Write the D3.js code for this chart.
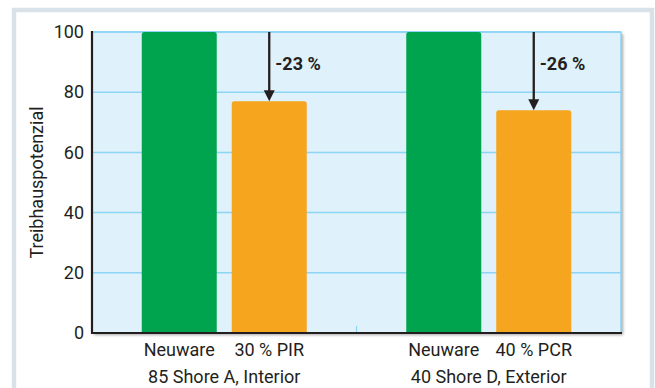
<!DOCTYPE html>
<html><head><meta charset="utf-8">
<script src="https://cdn.jsdelivr.net/npm/d3@7"></script>
<style>html,body{margin:0;padding:0;background:#fff;}svg{display:block;font-family:Roboto,"Noto Sans",sans-serif;}</style>
</head><body><svg id="c" width="655" height="388"></svg>
<script>
const groups = ["85 Shore A, Interior", "40 Shore D, Exterior"];
const series = ["Neuware", "Recyclat"];
const seriesLabels = [["Neuware", "30 % PIR"], ["Neuware", "40 % PCR"]];
const values = [[100, 77], [100, 74]];
const changeLabels = ["-23 %", "-26 %"];
const yTicks = [0, 20, 40, 60, 80, 100];
const yTitle = "Treibhauspotenzial";
const colors = ["#00a34e", "#f6a51e"];

const svg = d3.select("#c");
const L = 92, R = 621, T = 32, B = 333;

const defs = svg.append("defs");
const f = defs.append("filter").attr("id","sh").attr("x","-5%").attr("y","-5%").attr("width","115%").attr("height","115%");
f.append("feDropShadow").attr("dx",2).attr("dy",2).attr("stdDeviation",1.8).attr("flood-color","#000").attr("flood-opacity",0.35);

// outer frame
svg.append("rect").attr("x",14).attr("y",10).attr("width",638).attr("height",400)
  .attr("fill","#fff").attr("stroke","#d9e1e9").attr("stroke-width",4.5);

const y = d3.scaleLinear().domain([0,100]).range([B,T]);
const x0 = d3.scaleBand().domain(groups).range([L,R]);
const bw = x0.bandwidth();
const x1 = d3.scaleBand().domain(series).range([bw/2-82.5, bw/2+82.5]).paddingInner(15/90);

// plot background
svg.append("rect").attr("x",L).attr("y",T).attr("width",R-L).attr("height",B-T)
  .attr("fill","#dff1fa").attr("filter","url(#sh)");
svg.append("rect").attr("x",L).attr("y",T).attr("width",R-L).attr("height",B-T)
  .attr("fill","#dff1fa").attr("stroke","#8dd5f4").attr("stroke-width",1.5);

// grid
svg.append("g").selectAll("line").data(yTicks.filter(d=>d>0)).join("line")
  .attr("x1",L).attr("x2",R).attr("y1",d=>y(d)).attr("y2",d=>y(d))
  .attr("stroke","#8dd5f4").attr("stroke-width",1.5);

// separator tick
svg.append("line").attr("x1",x0(groups[1])).attr("x2",x0(groups[1]))
  .attr("y1",B-7).attr("y2",B).attr("stroke","#8dd5f4").attr("stroke-width",1.2);

// bars
const r = 2.5;
groups.forEach((g,gi)=>{
  const gx = x0(g);
  series.forEach((s,si)=>{
    const bx = gx + x1(s), w = x1.bandwidth(), top = y(values[gi][si]), h = B - top;
    svg.append("path")
      .attr("d", `M${bx},${B}V${top+r}Q${bx},${top} ${bx+r},${top}H${bx+w-r}Q${bx+w},${top} ${bx+w},${top+r}V${B}Z`)
      .attr("fill", colors[si]);
  });
  // arrow
  const ax = gx + x1(series[1]) + x1.bandwidth()/2;
  const tipY = y(values[gi][1]);
  svg.append("line").attr("x1",ax).attr("x2",ax).attr("y1",y(100)).attr("y2",tipY-9)
    .attr("stroke","#231f20").attr("stroke-width",2.3);
  svg.append("path").attr("d",`M${ax-5.5},${tipY-11}L${ax+5.5},${tipY-11}L${ax},${tipY}Z`).attr("fill","#231f20");
  svg.append("text").attr("x",ax+6).attr("y",y(100)+38).attr("font-size",18).attr("font-weight","bold")
    .attr("fill","#231f20").text(changeLabels[gi]);
  // labels
  series.forEach((s,si)=>{
    svg.append("text").attr("x",gx + x1(s) + x1.bandwidth()/2).attr("y",356)
      .attr("text-anchor","middle").attr("font-size",18).attr("fill","#231f20").text(seriesLabels[gi][si]);
  });
  svg.append("text").attr("x",gx + bw/2).attr("y",383)
    .attr("text-anchor","middle").attr("font-size",18).attr("fill","#231f20").text(g);
});

// axes
const yAxis = svg.append("g").attr("transform",`translate(${L},0)`)
  .call(d3.axisLeft(y).tickValues(yTicks).tickSize(0).tickPadding(8));
yAxis.select(".domain").remove();
yAxis.selectAll("text").attr("font-size",18).attr("fill","#231f20").attr("font-family","Roboto,sans-serif");
svg.append("line").attr("x1",L).attr("x2",L).attr("y1",T-1).attr("y2",B+1).attr("stroke","#231f20").attr("stroke-width",2.2);
svg.append("line").attr("x1",L-1).attr("x2",R+1).attr("y1",B).attr("y2",B).attr("stroke","#231f20").attr("stroke-width",2.2);

svg.append("text").attr("transform",`translate(43,${(T+B)/2}) rotate(-90)`)
  .attr("text-anchor","middle").attr("font-size",18).attr("fill","#231f20").text(yTitle);
</script></body></html>
